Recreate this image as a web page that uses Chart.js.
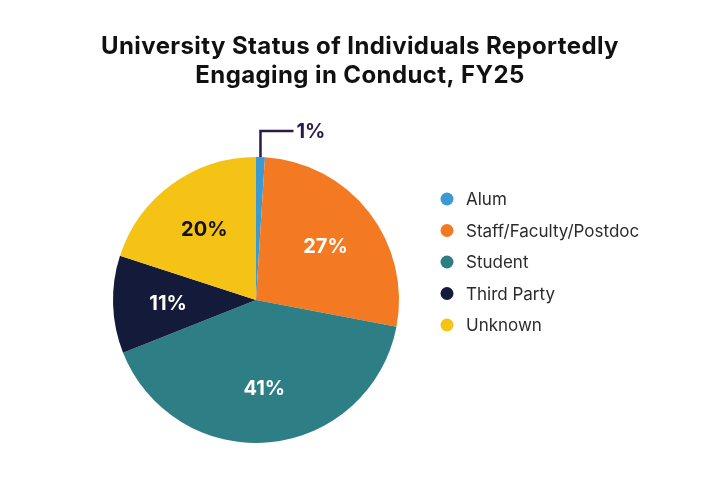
<!DOCTYPE html>
<html>
<head>
<meta charset="utf-8">
<script src="https://cdn.jsdelivr.net/npm/chart.js@4/dist/chart.umd.min.js"></script>
<style>
  html, body { margin: 0; padding: 0; background: #fff; }
  #wrap { width: 720px; height: 488px; }
</style>
</head>
<body>
<div id="wrap"><canvas id="pieChart" width="720" height="488"></canvas></div>
<script>
const categories = ['Alum', 'Staff/Faculty/Postdoc', 'Student', 'Third Party', 'Unknown'];
const shares = [1, 27, 41, 11, 20];
const sliceColors = ['#3A9AD1', '#F37A22', '#2E7E85', '#131A3A', '#F5C316'];
const valueLabelColors = ['#2A1A4A', '#FFFFFF', '#FFFFFF', '#FFFFFF', '#111111'];
const titleLines = ['University Status of Individuals Reportedly', 'Engaging in Conduct, FY25'];

const FONT = 'Inter, "Open Sans", sans-serif';

// title centred on the whole canvas (the chart area itself sits to the left)
const pageTitle = {
    id: 'pageTitle',
    afterDraw(chart) {
        const ctx = chart.ctx;
        ctx.save();
        ctx.font = 'bold 24px ' + FONT;
        ctx.letterSpacing = '0.4px';
        ctx.fillStyle = '#111';
        ctx.textAlign = 'center';
        ctx.textBaseline = 'middle';
        titleLines.forEach((line, i) => ctx.fillText(line, chart.width / 2, 47 + i * 29));
        ctx.restore();
    }
};

// percent labels: inside the slices, the tiny one gets a callout line
const sliceLabels = {
    id: 'sliceLabels',
    afterDatasetsDraw(chart) {
        const ctx = chart.ctx;
        const arcs = chart.getDatasetMeta(0).data;
        ctx.save();
        ctx.font = 'bold 20px ' + FONT;
        ctx.textBaseline = 'middle';
        arcs.forEach((arc, i) => {
            const p = arc.getProps(['x', 'y', 'startAngle', 'endAngle', 'outerRadius'], true);
            const mid = (p.startAngle + p.endAngle) / 2;
            const text = shares[i] + '%';
            ctx.fillStyle = valueLabelColors[i];
            if (shares[i] < 3) {
                const ax = p.x + Math.cos(mid) * p.outerRadius;
                const ay = p.y + Math.sin(mid) * p.outerRadius;
                ctx.strokeStyle = valueLabelColors[i];
                ctx.lineWidth = 2.5;
                ctx.beginPath();
                ctx.moveTo(ax, ay);
                ctx.lineTo(ax, ay - 26);
                ctx.lineTo(ax + 33, ay - 26);
                ctx.stroke();
                ctx.textAlign = 'left';
                ctx.fillText(text, ax + 36, ay - 25);
            } else {
                const r = p.outerRadius * 0.615;
                ctx.textAlign = 'center';
                ctx.fillText(text, p.x + Math.cos(mid) * r, p.y + Math.sin(mid) * r + 1);
            }
        });
        ctx.restore();
    }
};

// legend at the right, round markers
const sideLegend = {
    id: 'sideLegend',
    afterDraw(chart) {
        const ctx = chart.ctx;
        ctx.save();
        ctx.font = '17px ' + FONT;
        ctx.textBaseline = 'middle';
        ctx.textAlign = 'left';
        chart.data.labels.forEach((lab, i) => {
            const y = 199 + i * 31.5;
            ctx.fillStyle = chart.data.datasets[0].backgroundColor[i];
            ctx.beginPath();
            ctx.arc(447, y, 6.5, 0, Math.PI * 2);
            ctx.fill();
            ctx.fillStyle = '#2b2b2b';
            ctx.fillText(lab, 466, y + 1);
        });
        ctx.restore();
    }
};

new Chart(document.getElementById('pieChart').getContext('2d'), {
    type: 'pie',
    data: {
        labels: categories,
        datasets: [{
            data: shares,
            backgroundColor: sliceColors,
            borderWidth: 0
        }]
    },
    options: {
        responsive: false,
        animation: false,
        layout: {
            padding: { left: 100, right: 308, top: 157, bottom: 45 }
        },
        plugins: {
            legend: { display: false },
            tooltip: { enabled: false },
            title: { display: false }
        }
    },
    plugins: [sliceLabels, sideLegend, pageTitle]
});
</script>
</body>
</html>
